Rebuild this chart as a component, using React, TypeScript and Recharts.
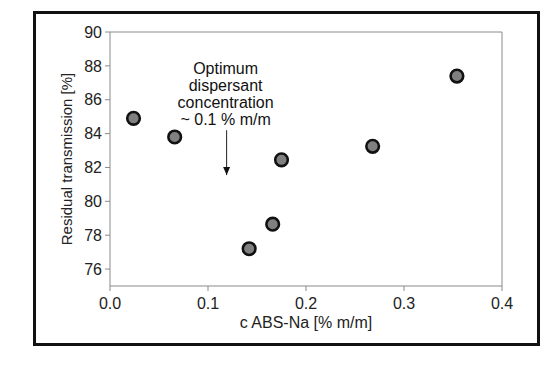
import React from 'react';
import {
  ScatterChart,
  Scatter,
  XAxis,
  YAxis,
  ReferenceLine,
  ReferenceDot,
  Label,
} from 'recharts';

// concentration of ABS-Na [% m/m]
const concentration = [0.024, 0.066, 0.142, 0.166, 0.175, 0.268, 0.354];
// residual transmission [%]
const transmission = [84.9, 83.8, 77.2, 78.65, 82.45, 83.25, 87.4];

const xTicks = [0, 0.1, 0.2, 0.3, 0.4];
const yTicks = [76, 78, 80, 82, 84, 86, 88, 90];

const noteLines = ['Optimum', 'dispersant', 'concentration', '~ 0.1 % m/m'];
const arrowX = 0.119;
const arrowTop = 84.2;
const arrowTip = 81.55;

const data = concentration.map((c, i) => ({ c, t: transmission[i] }));

const FONT = '"Liberation Sans", Arial, Helvetica, sans-serif';
const AXIS = '#8a8a8a';

const Marker = (props: any) => (
  <circle cx={props.cx} cy={props.cy} r={6.3} fill="#808080" stroke="#111" strokeWidth={2.6} />
);

const Note = (props: any) => (
  <g>
    {noteLines.map((line, i) => (
      <text
        key={line}
        x={props.cx - 1}
        y={props.cy - 56 + i * 17}
        textAnchor="middle"
        fontSize={16}
        fontFamily={FONT}
        fill="#111"
      >
        {line}
      </text>
    ))}
  </g>
);

const ArrowHead = (props: any) => (
  <path
    d={`M${props.cx - 3.5},${props.cy - 8} L${props.cx + 3.5},${props.cy - 8} L${props.cx},${props.cy} Z`}
    fill="#111"
  />
);

export default function App() {
  return (
    <div style={{ position: 'absolute', left: 0, top: 0, width: 554, height: 369, background: '#fff' }}>
      <div
        style={{
          position: 'absolute',
          left: 33,
          top: 11,
          width: 507,
          height: 335,
          border: '3px solid #111',
          boxSizing: 'border-box',
        }}
      />
      <div style={{ position: 'absolute', left: 0, top: 0 }}>
        <ScatterChart width={554} height={369} margin={{ top: 32, right: 52, bottom: 33, left: 50 }}>
          <XAxis
            type="number"
            dataKey="c"
            domain={[0, 0.4]}
            ticks={xTicks}
            tickFormatter={(v: number) => v.toFixed(1)}
            height={50}
            stroke={AXIS}
            tickSize={5}
            tickMargin={7}
            tick={{ fill: '#222', fontSize: 16, fontFamily: FONT }}
          >
            <Label
              value="c ABS-Na [% m/m]"
              position="insideBottom"
              offset={8}
              fill="#222"
              fontSize={16}
              fontFamily={FONT}
            />
          </XAxis>
          <YAxis
            type="number"
            dataKey="t"
            domain={[75, 90]}
            ticks={yTicks}
            width={60}
            stroke={AXIS}
            tickSize={5}
            tickMargin={3}
            tick={{ fill: '#222', fontSize: 16, fontFamily: FONT }}
          >
            <Label
              value="Residual transmission [%]"
              angle={-90}
              position="insideLeft"
              offset={17}
              style={{ textAnchor: 'middle' }}
              fill="#222"
              fontSize={15}
              fontFamily={FONT}
            />
          </YAxis>
          <ReferenceLine y={90} stroke={AXIS} />
          <ReferenceLine x={0.4} stroke={AXIS} />
          <ReferenceLine
            segment={[
              { x: arrowX, y: arrowTop },
              { x: arrowX, y: arrowTip },
            ]}
            stroke="#222"
            strokeWidth={1}
          />
          <ReferenceDot x={arrowX} y={arrowTip} shape={ArrowHead} />
          <ReferenceDot x={arrowX} y={arrowTop} shape={Note} />
          <Scatter data={data} shape={Marker} isAnimationActive={false} />
        </ScatterChart>
      </div>
    </div>
  );
}
